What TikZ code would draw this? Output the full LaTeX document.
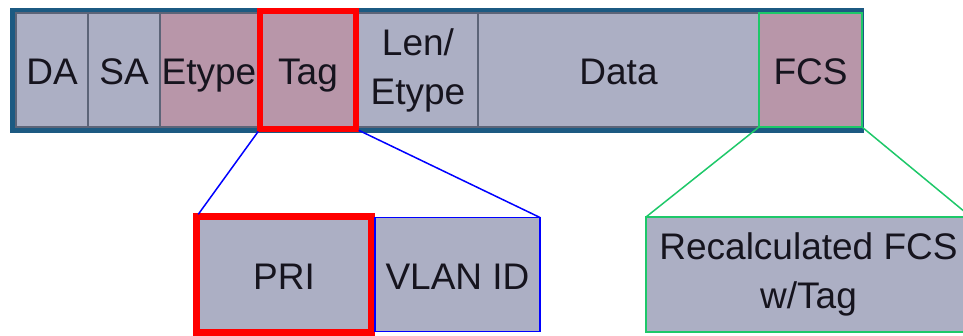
\documentclass[tikz,border=0pt]{standalone}
\usepackage{fontspec}
\setmainfont{Liberation Sans}
\usepackage{tikz}
\usetikzlibrary{
  positioning,  % 字段依次相对定位
  calc          % 坐标计算
}
\definecolor{fieldblue}{RGB}{172,175,196}
\definecolor{fieldpink}{RGB}{184,150,169}
\definecolor{framebar}{RGB}{28,90,130}
\definecolor{fieldline}{RGB}{92,100,120}
\definecolor{zoomgreen}{RGB}{30,200,105}
\definecolor{labeltext}{RGB}{22,20,30}
\tikzset{
  field/.style={
    rectangle,
    draw=fieldline,
    line width=1.2pt,
    fill=fieldblue,
    inner sep=0pt,
    outer sep=0pt,
    minimum height=114pt,
    text=labeltext,
    font=\fontsize{37}{49}\selectfont
  },
  tagged/.style={
    fill=fieldpink
  },
  one line/.style={
    text height=29pt,
    text depth=0pt
  },
  hilite/.style={
    draw=red,
    line width=6pt,
    inner sep=0pt,
    outer sep=0pt
  },
  zoom line/.style={
    line width=1.5pt
  }
}

\begin{document}
\begin{tikzpicture}[x=1pt, y=-1pt]

  % 画面范围（按像素坐标）
  \useasboundingbox (0,0) rectangle (963,335);
  \clip (0,0) rectangle (963,335);

  % ======================= 帧格式 =======================
  % 深蓝外框
  \fill[framebar] (10,8) rectangle (864,133);

  % 各字段
  \node[field, one line, minimum width=72pt] (da) at (52,70) {DA};
  \node[field, one line, minimum width=72pt, right=0pt of da] (sa) {SA};
  \node[field, tagged, one line, minimum width=98pt, right=0pt of sa] (etype) {Etype};
  \node[field, tagged, one line, minimum width=100pt, right=0pt of etype] (tag) {Tag};
  \node[field, align=center, minimum width=120pt, right=0pt of tag] (len) {Len/\\Etype};
  \node[field, one line, minimum width=281pt, right=0pt of len] (data) {Data};
  \node[field, tagged, one line, draw=zoomgreen, line width=2pt,
        minimum width=103pt, right=0pt of data] (fcs) {FCS};

  % Tag 红色强调框
  \node[hilite, minimum width=96pt, minimum height=118pt] (tagbox) at (tag) {};

  % ======================= 展开部分 =======================
  \node[field, one line, draw=red, line width=7pt, minimum width=175pt,
        minimum height=115.5pt] (pri) at (284,274.5) {PRI};
  \node[field, one line, draw=blue, line width=1.5pt, minimum width=165pt,
        right=3.5pt of pri] (vlan) {VLAN ID};
  \node[field, align=center, draw=zoomgreen, line width=2pt, minimum width=325pt,
        minimum height=115pt] (recalc) at (808.5,274.5) {Recalculated FCS\\w/Tag};

  % 连线
  \draw[zoom line, blue, shorten <=3pt, shorten >=3pt] (tagbox.south west) -- (pri.north west);
  \draw[zoom line, blue, shorten <=3pt] (tagbox.south east) -- (vlan.north east);
  \draw[zoom line, zoomgreen] (fcs.south west) -- (recalc.north west);
  \draw[zoom line, zoomgreen] (fcs.south east) -- (recalc.north east);

\end{tikzpicture}
\end{document}
